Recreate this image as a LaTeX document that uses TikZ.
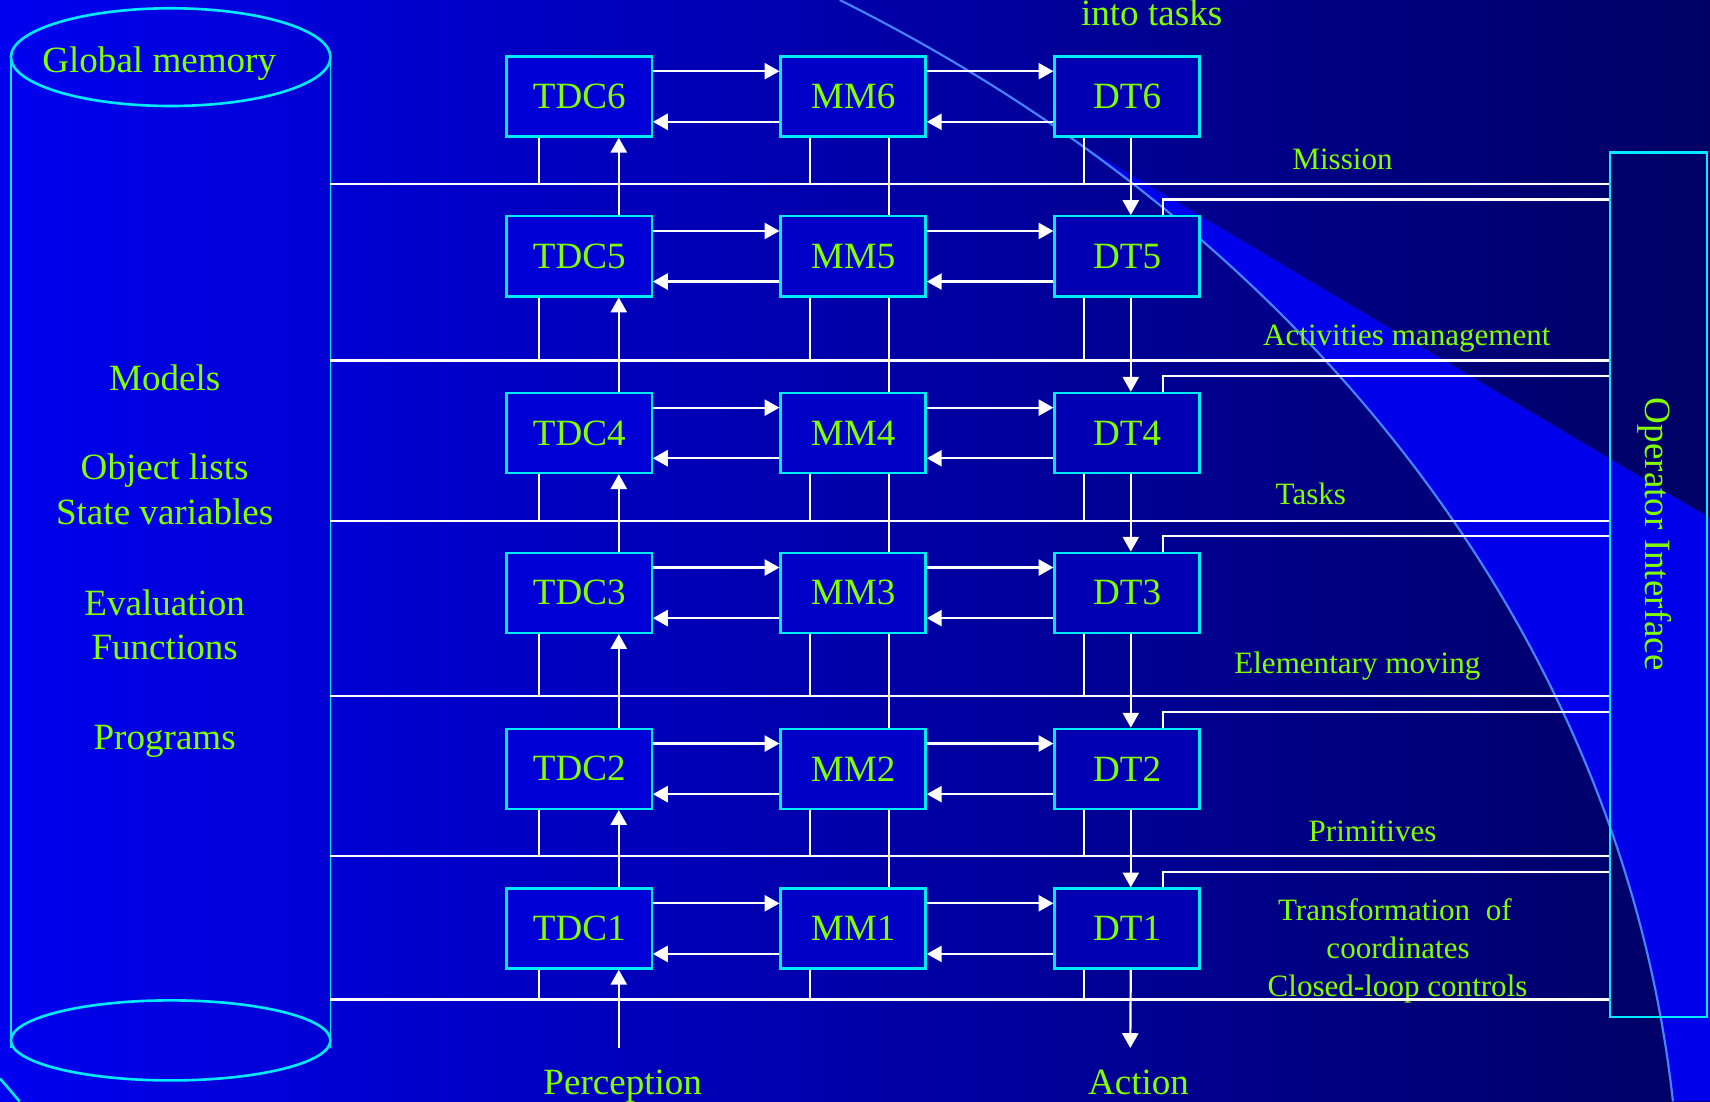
\documentclass[tikz,border=0pt]{standalone}
\usepackage{fontspec}
\setmainfont{Liberation Serif}
\usetikzlibrary{arrows.meta,positioning}
\definecolor{deepblue}{RGB}{0,0,238}
\definecolor{midblue}{RGB}{0,0,205}
\definecolor{nightblue}{RGB}{0,0,100}
\definecolor{bandblue}{RGB}{0,0,234}
\definecolor{arcblue}{RGB}{70,130,255}
\definecolor{edgecyan}{RGB}{0,235,255}
\definecolor{limetext}{RGB}{128,255,0}
\definecolor{tdcfill}{RGB}{0,0,214}
\definecolor{mmfill}{RGB}{0,0,198}
\definecolor{dtfill}{RGB}{0,0,178}
\newcommand{\bigtext}{\fontsize{17pt}{20.5pt}\selectfont}
\newcommand{\smalltext}{\fontsize{14.25pt}{17.75pt}\selectfont}
\tikzset{
  levelbox/.style={
    draw=edgecyan,
    line width=1.1pt,
    fill=#1,
    minimum width=66.5pt,
    minimum height=36.7pt,
    inner sep=0pt,
    text=limetext,
    font=\bigtext
  },
  bigtag/.style={text=limetext,font=\bigtext,anchor=base,inner sep=0pt},
  smalltag/.style={text=limetext,font=\smalltext,anchor=base,inner sep=0pt},
  cyanline/.style={draw=edgecyan,line width=1.2pt},
  wire/.style={draw=white,line width=1pt},
  warrow/.style={wire,-{Triangle[length=6.8pt,width=7.4pt]}}
}

\begin{document}
\begin{tikzpicture}[x=0.5pt,y=-0.5pt,node distance=58pt]
\useasboundingbox (0,0) rectangle (1568,1010);
\shade[left color=deepblue,middle color=midblue,right color=nightblue] (0,0) rectangle (1568,1010);
\begin{scope}
\clip (770,0) .. controls (1205,217) and (1488,591) .. (1534,1010) -- (1568,1010) -- (1568,0) -- cycle;
\fill[bandblue] (900,79) -- (1568,475) -- (1568,1010) -- (900,1010) -- cycle;
\end{scope}
\draw[arcblue,line width=1pt] (770,0) .. controls (1205,217) and (1488,591) .. (1534,1010);
\draw[cyanline] (0,989) .. controls (7,997) .. (18,1010);
% global memory
\draw[cyanline] (156.5,52.4) ellipse [x radius=146.5,y radius=44.8];
\draw[edgecyan,line width=0.8pt] (10,52.4) -- (10,961) (303,52.4) -- (303,961);
\draw[cyanline] (156.5,954) ellipse [x radius=146.5,y radius=36.7];
\node[bigtag] (gm) at (146,66.6) {Global memory};
\node[bigtag] (models) at (151,358) {Models};
\node[bigtag] (objects) at (151,440) {Object lists};
\node[bigtag] (states) at (151,481) {State variables};
\node[bigtag] (evals) at (151,564) {Evaluation};
\node[bigtag] (funcs) at (151,605) {Functions};
\node[bigtag] (progs) at (151,687) {Programs};
% operator interface
\node[draw=edgecyan,line width=1pt,minimum width=44.8pt,minimum height=396.3pt,inner sep=0pt] (oi) at (1520.8,536.1) {};
\node[bigtag,anchor=center,rotate=-90] (oitext) at (1517,490) {Operator Interface};
% levels
\node[levelbox=tdcfill] (tdc6) at (531.1,88.5) {TDC6};
\node[levelbox=mmfill,right=of tdc6] (mm6) {MM6};
\node[levelbox=dtfill,right=of mm6] (dt6) {DT6};
\node[levelbox=tdcfill] (tdc5) at (531.1,235) {TDC5};
\node[levelbox=mmfill,right=of tdc5] (mm5) {MM5};
\node[levelbox=dtfill,right=of mm5] (dt5) {DT5};
\node[levelbox=tdcfill] (tdc4) at (531.1,397) {TDC4};
\node[levelbox=mmfill,right=of tdc4] (mm4) {MM4};
\node[levelbox=dtfill,right=of mm4] (dt4) {DT4};
\node[levelbox=tdcfill] (tdc3) at (531.1,543.6) {TDC3};
\node[levelbox=mmfill,right=of tdc3] (mm3) {MM3};
\node[levelbox=dtfill,right=of mm3] (dt3) {DT3};
\node[levelbox=tdcfill] (tdc2) at (531.1,705) {TDC2};
\node[levelbox=mmfill,right=of tdc2] (mm2) {MM2};
\node[levelbox=dtfill,right=of mm2] (dt2) {DT2};
\node[levelbox=tdcfill] (tdc1) at (531.1,851.5) {TDC1};
\node[levelbox=mmfill,right=of tdc1] (mm1) {MM1};
\node[levelbox=dtfill,right=of mm1] (dt1) {DT1};
% layer names
\node[bigtag] (into) at (1056,23) {into tasks};
\node[smalltag] (mission) at (1231,155.3) {Mission};
\node[smalltag] (activities) at (1290,316.4) {Activities management};
\node[smalltag] (tasks) at (1202,463) {Tasks};
\node[smalltag] (moving) at (1244.6,618) {Elementary moving};
\node[smalltag] (prims) at (1258.6,771.8) {Primitives};
\node[smalltag] (coords1) at (1279,843.6) {Transformation~ of};
\node[smalltag] (coords2) at (1282,878.7) {coordinates};
\node[smalltag] (coords3) at (1281.5,914) {Closed-loop controls};
\node[bigtag] (perc) at (571,1004) {Perception};
\node[bigtag] (act) at (1044,1004) {Action};
% buses
\coordinate (bus6) at (303,169);
\coordinate (bus5) at (303,330.5);
\coordinate (bus4) at (303,477.5);
\coordinate (bus3) at (303,638.5);
\coordinate (bus2) at (303,785);
\coordinate (bus1) at (303,916.5);
\foreach \n in {1,...,6} {
  \draw[wire] (bus\n) -- (bus\n -| oi.west);
  \draw[wire] ([xshift=-18.3pt]tdc\n.south) -- ([xshift=-18.3pt]tdc\n.south |- bus\n);
  \draw[wire] ([xshift=-19.75pt]mm\n.south) -- ([xshift=-19.75pt]mm\n.south |- bus\n);
  \draw[wire] ([xshift=-19.85pt]dt\n.south) -- ([xshift=-19.85pt]dt\n.south |- bus\n);
  \draw[warrow] ([yshift=-7.3pt]tdc\n.north east) -- ([yshift=-7.3pt]mm\n.north west);
  \draw[warrow] ([yshift=-7.3pt]mm\n.north east) -- ([yshift=-7.3pt]dt\n.north west);
  \draw[warrow] ([yshift=7.3pt]dt\n.south west) -- ([yshift=7.3pt]mm\n.south east);
  \draw[warrow] ([yshift=7.3pt]mm\n.south west) -- ([yshift=7.3pt]tdc\n.south east);
}
\foreach \n/\m in {1/2,2/3,3/4,4/5,5/6} {
  \draw[warrow] ([xshift=18.15pt]tdc\n.north) -- ([xshift=18.15pt]tdc\m.south);
  \draw[wire] ([xshift=16.6pt]mm\m.south) -- ([xshift=16.6pt]mm\n.north);
  \draw[warrow] ([xshift=1.7pt]dt\m.south) -- ([xshift=1.7pt]dt\n.north);
  \coordinate (op\n) at ([xshift=16.45pt,yshift=7.15pt]dt\n.north);
  \draw[wire] ([xshift=16.45pt]dt\n.north) -- (op\n) -- (op\n -| oi.west);
}
\coordinate (percin) at (567.4,961);
\coordinate (actout) at (1036.4,961);
\draw[warrow] (percin) -- ([xshift=18.15pt]tdc1.south);
\draw[warrow] ([xshift=1.7pt]dt1.south) -- (actout);
\end{tikzpicture}
\end{document}
